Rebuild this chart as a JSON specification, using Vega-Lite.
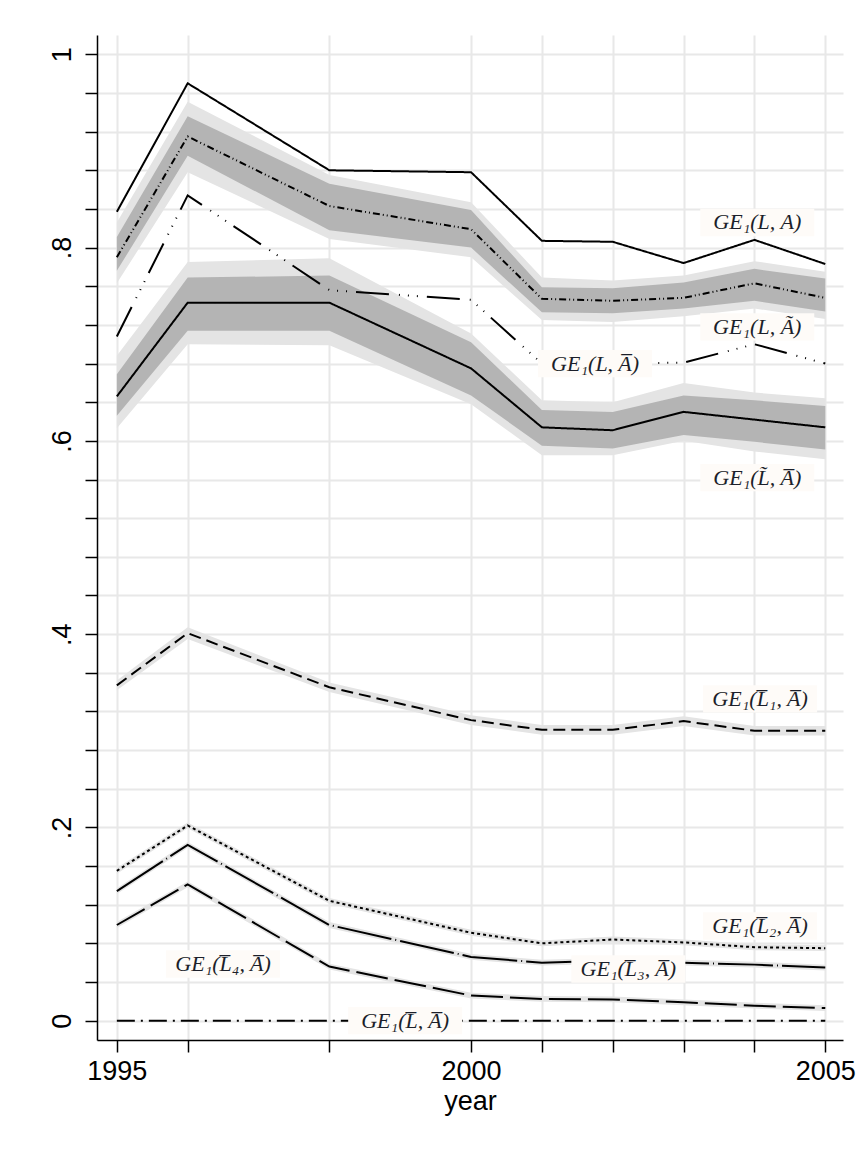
{
  "$schema": "https://vega.github.io/schema/vega-lite/v6.json",
  "autosize": {"type": "none"},
  "padding": {"left": 97, "top": 35, "right": 21, "bottom": 113},
  "width": 746,
  "height": 1005,
  "background": "white",
  "config": {"view": {"stroke": null}},
  "datasets": {
    "series": [
      {"s": "LA", "year": 1995, "v": 0.837},
      {"s": "LA", "year": 1996, "v": 0.970},
      {"s": "LA", "year": 1998, "v": 0.880},
      {"s": "LA", "year": 2000, "v": 0.878},
      {"s": "LA", "year": 2001, "v": 0.807},
      {"s": "LA", "year": 2002, "v": 0.806},
      {"s": "LA", "year": 2003, "v": 0.784},
      {"s": "LA", "year": 2004, "v": 0.808},
      {"s": "LA", "year": 2005, "v": 0.783},
      {"s": "LAt", "year": 1995, "v": 0.790, "dlo": 0.776, "dhi": 0.811, "llo": 0.763, "lhi": 0.826},
      {"s": "LAt", "year": 1996, "v": 0.915, "dlo": 0.895, "dhi": 0.936, "llo": 0.878, "lhi": 0.951},
      {"s": "LAt", "year": 1998, "v": 0.843, "dlo": 0.818, "dhi": 0.866, "llo": 0.809, "lhi": 0.875},
      {"s": "LAt", "year": 2000, "v": 0.819, "dlo": 0.800, "dhi": 0.839, "llo": 0.790, "lhi": 0.847},
      {"s": "LAt", "year": 2001, "v": 0.747, "dlo": 0.733, "dhi": 0.759, "llo": 0.725, "lhi": 0.769},
      {"s": "LAt", "year": 2002, "v": 0.745, "dlo": 0.732, "dhi": 0.758, "llo": 0.723, "lhi": 0.766},
      {"s": "LAt", "year": 2003, "v": 0.748, "dlo": 0.737, "dhi": 0.764, "llo": 0.729, "lhi": 0.771},
      {"s": "LAt", "year": 2004, "v": 0.763, "dlo": 0.745, "dhi": 0.778, "llo": 0.737, "lhi": 0.786},
      {"s": "LAt", "year": 2005, "v": 0.748, "dlo": 0.734, "dhi": 0.768, "llo": 0.726, "lhi": 0.775},
      {"s": "LAb", "year": 1995, "v": 0.708},
      {"s": "LAb", "year": 1996, "v": 0.854},
      {"s": "LAb", "year": 1998, "v": 0.756},
      {"s": "LAb", "year": 2000, "v": 0.746},
      {"s": "LAb", "year": 2001, "v": 0.680},
      {"s": "LAb", "year": 2002, "v": 0.680},
      {"s": "LAb", "year": 2003, "v": 0.681},
      {"s": "LAb", "year": 2004, "v": 0.700},
      {"s": "LAb", "year": 2005, "v": 0.680},
      {"s": "LtAb", "year": 1995, "v": 0.646, "dlo": 0.626, "dhi": 0.669, "llo": 0.613, "lhi": 0.688},
      {"s": "LtAb", "year": 1996, "v": 0.743, "dlo": 0.714, "dhi": 0.769, "llo": 0.700, "lhi": 0.785},
      {"s": "LtAb", "year": 1998, "v": 0.743, "dlo": 0.714, "dhi": 0.771, "llo": 0.699, "lhi": 0.789},
      {"s": "LtAb", "year": 2000, "v": 0.675, "dlo": 0.647, "dhi": 0.702, "llo": 0.638, "lhi": 0.711},
      {"s": "LtAb", "year": 2001, "v": 0.614, "dlo": 0.595, "dhi": 0.632, "llo": 0.585, "lhi": 0.642},
      {"s": "LtAb", "year": 2002, "v": 0.611, "dlo": 0.592, "dhi": 0.630, "llo": 0.585, "lhi": 0.640},
      {"s": "LtAb", "year": 2003, "v": 0.630, "dlo": 0.606, "dhi": 0.647, "llo": 0.600, "lhi": 0.660},
      {"s": "LtAb", "year": 2004, "v": 0.622, "dlo": 0.599, "dhi": 0.642, "llo": 0.589, "lhi": 0.650},
      {"s": "LtAb", "year": 2005, "v": 0.614, "dlo": 0.591, "dhi": 0.636, "llo": 0.581, "lhi": 0.644},
      {"s": "L1", "year": 1995, "v": 0.347, "llo": 0.342, "lhi": 0.352},
      {"s": "L1", "year": 1996, "v": 0.401, "llo": 0.395, "lhi": 0.407},
      {"s": "L1", "year": 1998, "v": 0.345, "llo": 0.340, "lhi": 0.350},
      {"s": "L1", "year": 2000, "v": 0.311, "llo": 0.306, "lhi": 0.316},
      {"s": "L1", "year": 2001, "v": 0.301, "llo": 0.296, "lhi": 0.306},
      {"s": "L1", "year": 2002, "v": 0.301, "llo": 0.296, "lhi": 0.306},
      {"s": "L1", "year": 2003, "v": 0.310, "llo": 0.305, "lhi": 0.315},
      {"s": "L1", "year": 2004, "v": 0.300, "llo": 0.295, "lhi": 0.305},
      {"s": "L1", "year": 2005, "v": 0.300, "llo": 0.295, "lhi": 0.305},
      {"s": "L2", "year": 1995, "v": 0.155, "llo": 0.152, "lhi": 0.158},
      {"s": "L2", "year": 1996, "v": 0.202, "llo": 0.199, "lhi": 0.205},
      {"s": "L2", "year": 1998, "v": 0.124, "llo": 0.121, "lhi": 0.127},
      {"s": "L2", "year": 2000, "v": 0.091, "llo": 0.088, "lhi": 0.094},
      {"s": "L2", "year": 2001, "v": 0.080, "llo": 0.077, "lhi": 0.083},
      {"s": "L2", "year": 2002, "v": 0.084, "llo": 0.081, "lhi": 0.087},
      {"s": "L2", "year": 2003, "v": 0.081, "llo": 0.078, "lhi": 0.084},
      {"s": "L2", "year": 2004, "v": 0.076, "llo": 0.073, "lhi": 0.079},
      {"s": "L2", "year": 2005, "v": 0.075, "llo": 0.072, "lhi": 0.078},
      {"s": "L3", "year": 1995, "v": 0.134, "llo": 0.131, "lhi": 0.137},
      {"s": "L3", "year": 1996, "v": 0.182, "llo": 0.179, "lhi": 0.185},
      {"s": "L3", "year": 1998, "v": 0.099, "llo": 0.096, "lhi": 0.102},
      {"s": "L3", "year": 2000, "v": 0.066, "llo": 0.063, "lhi": 0.069},
      {"s": "L3", "year": 2001, "v": 0.060, "llo": 0.057, "lhi": 0.063},
      {"s": "L3", "year": 2002, "v": 0.062, "llo": 0.059, "lhi": 0.065},
      {"s": "L3", "year": 2003, "v": 0.060, "llo": 0.057, "lhi": 0.063},
      {"s": "L3", "year": 2004, "v": 0.058, "llo": 0.055, "lhi": 0.061},
      {"s": "L3", "year": 2005, "v": 0.055, "llo": 0.052, "lhi": 0.058},
      {"s": "L4", "year": 1995, "v": 0.099, "llo": 0.096, "lhi": 0.102},
      {"s": "L4", "year": 1996, "v": 0.141, "llo": 0.138, "lhi": 0.144},
      {"s": "L4", "year": 1998, "v": 0.056, "llo": 0.053, "lhi": 0.059},
      {"s": "L4", "year": 2000, "v": 0.026, "llo": 0.023, "lhi": 0.029},
      {"s": "L4", "year": 2001, "v": 0.0225, "llo": 0.0195, "lhi": 0.0255},
      {"s": "L4", "year": 2002, "v": 0.022, "llo": 0.019, "lhi": 0.025},
      {"s": "L4", "year": 2003, "v": 0.019, "llo": 0.016, "lhi": 0.022},
      {"s": "L4", "year": 2004, "v": 0.0155, "llo": 0.0125, "lhi": 0.0185},
      {"s": "L4", "year": 2005, "v": 0.013, "llo": 0.010, "lhi": 0.016},
      {"s": "Lb", "year": 1995, "v": 0},
      {"s": "Lb", "year": 1996, "v": 0},
      {"s": "Lb", "year": 1998, "v": 0},
      {"s": "Lb", "year": 2000, "v": 0},
      {"s": "Lb", "year": 2001, "v": 0},
      {"s": "Lb", "year": 2002, "v": 0},
      {"s": "Lb", "year": 2003, "v": 0},
      {"s": "Lb", "year": 2004, "v": 0},
      {"s": "Lb", "year": 2005, "v": 0}
    ],
    "labels": [
      {"label": "GE₁(L, A)", "year": 2004.04, "v": 0.826},
      {"label": "GE₁(L, Ã)", "year": 2004.04, "v": 0.718},
      {"label": "GE₁(L, A̅)", "year": 2001.75, "v": 0.680},
      {"label": "GE₁(L̃, A̅)", "year": 2004.04, "v": 0.562},
      {"label": "GE₁(L̅₁, A̅)", "year": 2004.08, "v": 0.333},
      {"label": "GE₁(L̅₂, A̅)", "year": 2004.08, "v": 0.098},
      {"label": "GE₁(L̅₃, A̅)", "year": 2002.22, "v": 0.0535},
      {"label": "GE₁(L̅₄, A̅)", "year": 1996.5, "v": 0.0587},
      {"label": "GE₁(L̅, A̅)", "year": 1999.07, "v": 0}
    ]
  },
  "encoding": {
    "x": {
      "field": "year", "type": "quantitative",
      "scale": {"domain": [1994.72, 2005.25], "nice": false, "zero": false},
      "axis": {
        "values": [1995, 1996, 1998, 2000, 2001, 2002, 2003, 2004, 2005],
        "labelExpr": "datum.value % 5 == 0 ? '' + datum.value : ''",
        "title": "year",
        "grid": true, "gridColor": "#e8e8e8", "gridWidth": 2,
        "domainColor": "black", "domainWidth": 1.5,
        "tickColor": "black", "tickWidth": 1.5, "tickSize": 12,
        "labelFont": "Liberation Sans", "labelFontSize": 27, "labelColor": "black",
        "labelPadding": 6, "labelFlush": false, "labelOverlap": false,
        "titleFont": "Liberation Sans", "titleFontSize": 27, "titleFontWeight": "normal",
        "titleColor": "black", "titlePadding": 4
      }
    },
    "y": {
      "type": "quantitative",
      "scale": {"domain": [-0.02, 1.02], "nice": false, "zero": false},
      "axis": {
        "values": [0, 0.04, 0.08, 0.12, 0.16, 0.2, 0.24, 0.28, 0.32, 0.36, 0.4, 0.44, 0.48, 0.52, 0.56, 0.6, 0.64, 0.68, 0.72, 0.76, 0.8, 0.84, 0.88, 0.92, 0.96, 1],
        "labelExpr": "abs(datum.value*5 - round(datum.value*5)) < 0.001 ? replace(format(datum.value, '.1~f'), '0.', '.') : ''",
        "title": null,
        "grid": true, "gridColor": "#e8e8e8", "gridWidth": 2,
        "domainColor": "black", "domainWidth": 1.5,
        "tickColor": "black", "tickWidth": 1.5, "tickSize": 12,
        "labelFont": "Liberation Sans", "labelFontSize": 27, "labelColor": "black",
        "labelAngle": 270, "labelAlign": "center", "labelBaseline": "alphabetic",
        "labelPadding": 15, "labelFlush": false, "labelOverlap": false
      }
    }
  },
  "layer": [
    {
      "data": {"name": "series"},
      "transform": [{"filter": "isValid(datum.llo)"}],
      "mark": {"type": "area", "color": "#e4e4e4", "opacity": 1},
      "encoding": {
        "y": {"field": "llo"},
        "y2": {"field": "lhi"},
        "detail": {"field": "s", "type": "nominal"}
      }
    },
    {
      "data": {"name": "series"},
      "transform": [{"filter": "isValid(datum.dlo)"}],
      "mark": {"type": "area", "color": "#b4b4b4", "opacity": 1},
      "encoding": {
        "y": {"field": "dlo"},
        "y2": {"field": "dhi"},
        "detail": {"field": "s", "type": "nominal"}
      }
    },
    {
      "data": {"name": "series"},
      "mark": {"type": "line", "color": "black", "strokeWidth": 2},
      "encoding": {
        "y": {"field": "v"},
        "detail": {"field": "s", "type": "nominal"},
        "strokeDash": {
          "field": "s", "type": "nominal", "legend": null,
          "scale": {
            "domain": ["LA", "LAt", "LAb", "LtAb", "L1", "L2", "L3", "L4", "Lb"],
            "range": [[1, 0], [7, 3, 1, 3, 1, 3], [33, 10, 1, 8, 1, 8, 1, 9], [1, 0], [12, 6], [3, 3], [55, 4, 1, 4], [32, 7], [18, 6, 2, 6]]
          }
        }
      }
    },
    {
      "data": {"name": "labels"},
      "mark": {"type": "point", "shape": "M-1,-0.24L1,-0.24L1,0.24L-1,0.24Z", "filled": true, "color": "#fefbf8", "opacity": 1, "size": 12996, "strokeWidth": 0},
      "encoding": {
        "y": {"field": "v"}
      }
    },
    {
      "data": {"name": "labels"},
      "mark": {"type": "text", "font": "Liberation Serif", "fontStyle": "italic", "fontSize": 22, "color": "#1c1f2a", "align": "center", "baseline": "middle"},
      "encoding": {
        "y": {"field": "v"},
        "text": {"field": "label"}
      }
    }
  ]
}
